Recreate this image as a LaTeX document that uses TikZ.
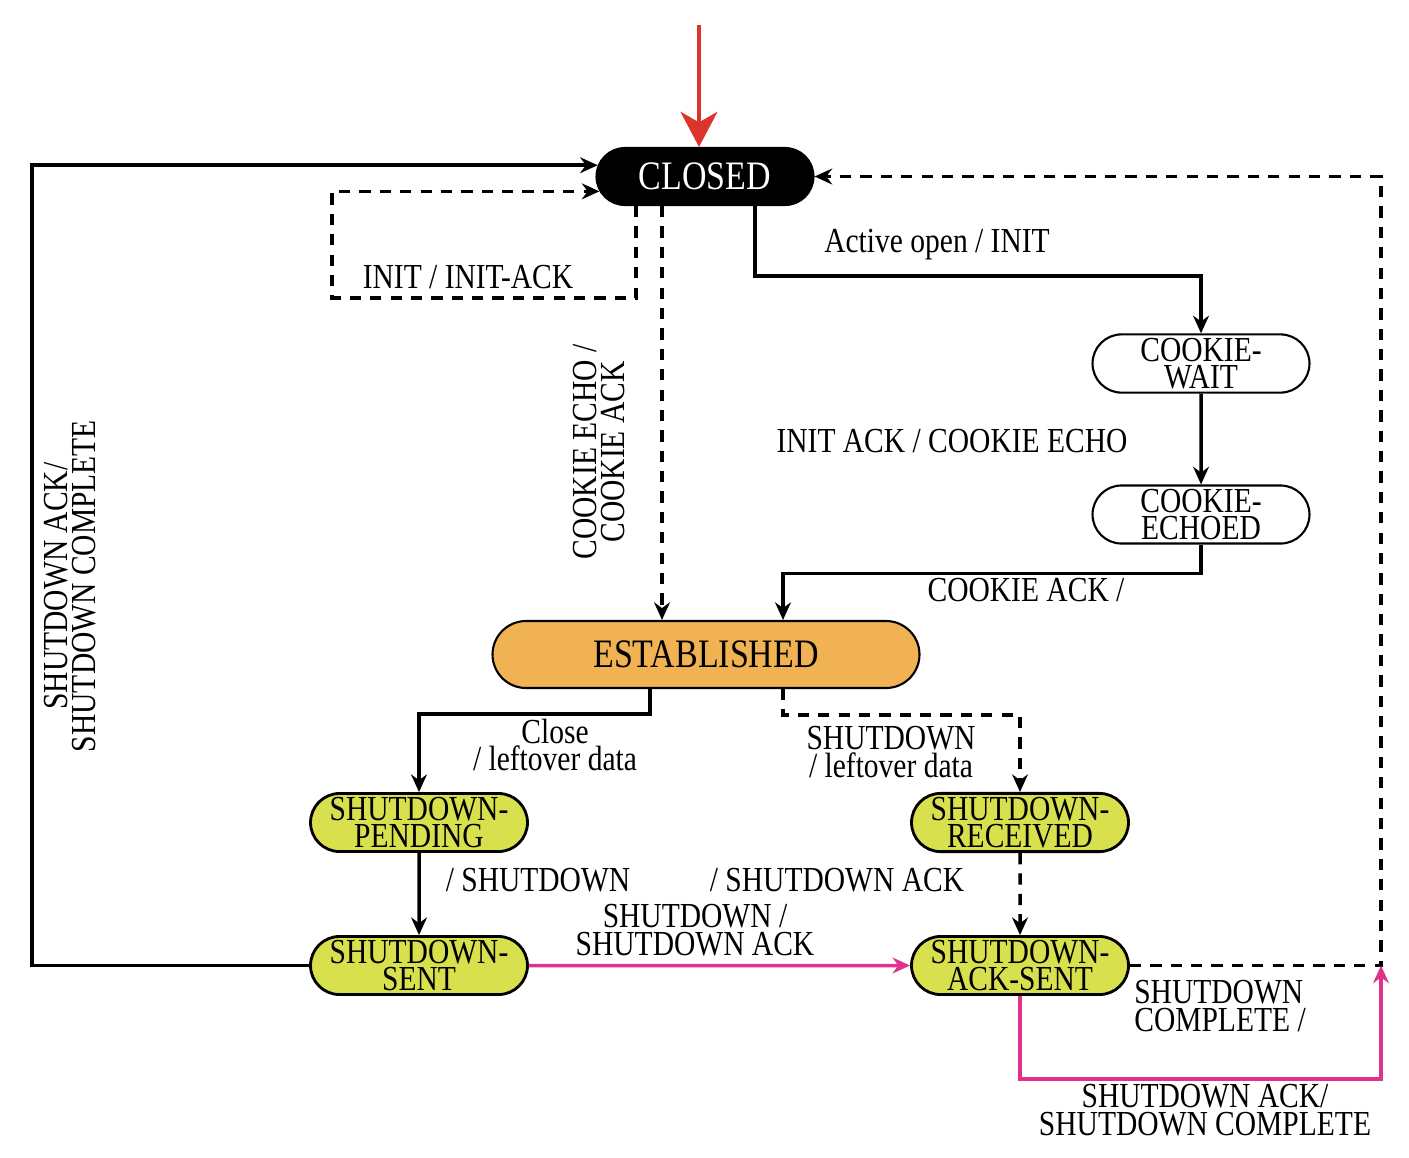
\documentclass[tikz,border=0pt]{standalone}
\usepackage{fontspec}
\setmainfont{Liberation Serif}[FakeStretch=0.84]
\usetikzlibrary{arrows.meta,shapes.misc}

\definecolor{startred}{RGB}{218,52,44}
\definecolor{estfill}{RGB}{240,178,82}
\definecolor{closefill}{RGB}{216,224,78}
\definecolor{shutpink}{RGB}{222,50,140}

\begin{document}
\begin{tikzpicture}[
    state/.style={rounded rectangle, draw, line width=0.6pt, minimum height=0.57cm,
                  minimum width=2.24cm, inner sep=1pt, align=center,
                  font=\fontsize{10}{7.8}\selectfont},
    closing/.style={state, fill=closefill, line width=0.8pt},
    flow/.style={-{Stealth[length=5pt, width=4.5pt]}, line width=1pt},
    dflow/.style={flow, dash pattern=on 3.2pt off 2.6pt},
    pflow/.style={flow, draw=shutpink},
    note/.style={align=center, font=\fontsize{10}{7.8}\selectfont},
]
    \useasboundingbox (0, 0) rectangle (14.09, -11.57);

    \node[state, fill=black, text=white, font=\fontsize{11.5}{9}\selectfont] (closed)
        at (7.05, -1.765) {CLOSED};
    \node[state] (cwait) at (12.01, -3.635) {COOKIE-\\WAIT};
    \node[state] (cecho) at (12.01, -5.145) {COOKIE-\\ECHOED};
    \node[state, fill=estfill, minimum width=4.34cm, minimum height=0.67cm,
          font=\fontsize{11.5}{9}\selectfont] (est) at (7.06, -6.545) {ESTABLISHED};
    \node[closing] (spend) at (4.19, -8.225) {SHUTDOWN-\\PENDING};
    \node[closing] (srecv) at (10.20, -8.225) {SHUTDOWN-\\RECEIVED};
    \node[closing] (ssent) at (4.19, -9.655) {SHUTDOWN-\\SENT};
    \node[closing] (sacks) at (10.20, -9.655) {SHUTDOWN-\\ACK-SENT};

    \coordinate (start) at (6.99, -0.25);
    \coordinate (sdone) at (13.81, -9.655);

    \node[note] (lblactive) at (9.37, -2.45) {Active open / INIT};
    \node[note] (lblinit) at (4.68, -2.77) {INIT / INIT-ACK};
    \node[note, rotate=90] (lblcookie) at (5.99, -4.52) {COOKIE ECHO /\\COOKIE ACK};
    \node[note] (lblinitack) at (9.52, -4.41) {INIT ACK / COOKIE ECHO};
    \node[note] (lblcack) at (10.26, -5.90) {COOKIE ACK /};
    \node[note] (lblclose) at (5.55, -7.45) {Close\\/ leftover data};
    \node[note] (lblshut) at (8.91, -7.52) {SHUTDOWN\\/ leftover data};
    \node[note] (lblsend) at (5.38, -8.80) {/ SHUTDOWN};
    \node[note] (lblsendack) at (8.37, -8.80) {/ SHUTDOWN ACK};
    \node[note] (lblcross) at (6.95, -9.30) {SHUTDOWN /\\SHUTDOWN ACK};
    \node[note, align=left] (lblcomplete) at (12.20, -10.06) {SHUTDOWN\\COMPLETE /};
    \node[note] (lblackdone) at (12.05, -11.10) {SHUTDOWN ACK/\\SHUTDOWN COMPLETE};
    \node[note, rotate=90] (lblleft) at (0.70, -5.86) {SHUTDOWN ACK/\\SHUTDOWN COMPLETE};

    \draw[-{Stealth[length=10pt, width=10.5pt, inset=3pt]}, line width=1pt, draw=startred]
        (start) -- (start |- closed.north);
    \draw[flow] (ssent.west) -- ++(-2.77, 0) |- (closed.174);
    \draw[dflow] ([xshift=-6.9mm]closed.south) |- (3.32, -2.98) |- (closed.188);
    \draw[dflow] ([xshift=-4.3mm]closed.south) -- ([xshift=-4.3mm]closed.south |- est.north);
    \draw[flow] ([xshift=5mm]closed.south) -- ++(0, -0.70) -| (cwait.north);
    \draw[flow] (cwait) -- (cecho);
    \draw[flow] (cecho.south) -- ++(0, -0.29) -| ([xshift=7.7mm]est.north);
    \draw[flow] ([xshift=-5.6mm]est.south) -- ++(0, -0.25) -| (spend.north);
    \draw[dflow] ([xshift=7.7mm]est.south) -- ++(0, -0.26) -| (srecv.north);
    \draw[flow] (spend) -- (ssent);
    \draw[dflow] (srecv) -- (sacks);
    \draw[pflow] (ssent) -- (sacks);
    \draw[dflow] (sacks.east) -- ++(2.51, 0) |- (closed.east);
    \draw[pflow] (sacks.south) -- ++(0, -0.83) -| (sdone);
\end{tikzpicture}
\end{document}
